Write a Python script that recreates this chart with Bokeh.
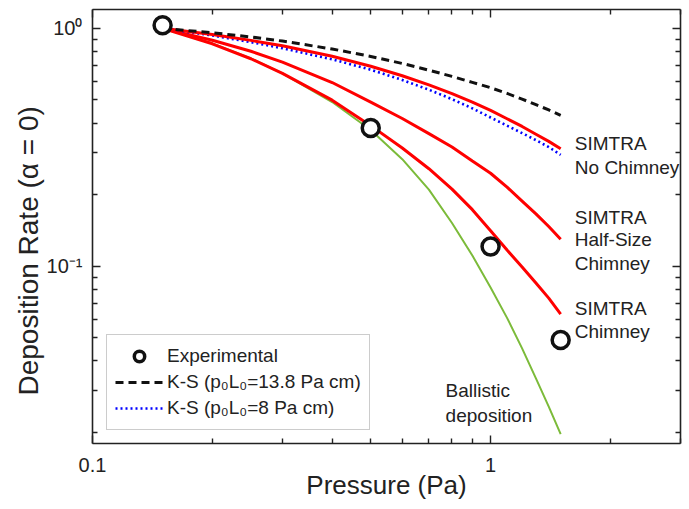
from bokeh.plotting import figure
from bokeh.models import Range1d, LogAxis, FixedTicker, Legend, LegendItem, Label, Title
from bokeh.embed import file_html
from bokeh.resources import INLINE

# ---- data ----
PRESSURE = [0.15, 0.2, 0.25, 0.3, 0.4, 0.5, 0.6, 0.7, 0.8, 0.9, 1.0, 1.1, 1.2, 1.3, 1.4, 1.5]
KS_13_8 = [1.0, 0.958, 0.920, 0.884, 0.819, 0.762, 0.712, 0.667, 0.628, 0.593, 0.563, 0.533, 0.504, 0.478, 0.454, 0.431]
KS_8 = [1.0, 0.933, 0.875, 0.825, 0.741, 0.670, 0.607, 0.552, 0.504, 0.461, 0.422, 0.390, 0.363, 0.339, 0.317, 0.294]
SIM_NO_CHIMNEY = [1.0, 0.942, 0.890, 0.845, 0.763, 0.693, 0.632, 0.579, 0.532, 0.490, 0.452, 0.417, 0.387, 0.359, 0.335, 0.312]
SIM_HALF_CHIMNEY = [1.0, 0.891, 0.801, 0.721, 0.592, 0.490, 0.418, 0.361, 0.317, 0.277, 0.246, 0.215, 0.188, 0.166, 0.147, 0.130]
SIM_CHIMNEY = [1.0, 0.861, 0.745, 0.647, 0.499, 0.390, 0.314, 0.257, 0.211, 0.173, 0.141, 0.117, 0.0993, 0.085, 0.0735, 0.0630]
BALLISTIC = [1.0, 0.865, 0.748, 0.647, 0.490, 0.374, 0.282, 0.210, 0.152, 0.111, 0.0815, 0.0607, 0.0452, 0.0338, 0.0257, 0.0197]

EXP_P = [0.15, 0.5, 1.0, 1.5]
EXP_RATE = [1.03, 0.381, 0.121, 0.049]

X_TICKS = [0.1, 1]
X_TICK_LABELS = ["0.1", "1"]
X_MINOR = [0.2, 0.3, 0.4, 0.5, 0.6, 0.7, 0.8, 0.9, 2, 3]
Y_TICKS = [0.1, 1]
Y_TICK_LABELS = ["10\u207b\u00b9", "10\u2070"]
Y_MINOR = [0.02, 0.03, 0.04, 0.05, 0.06, 0.07, 0.08, 0.09, 0.2, 0.3, 0.4, 0.5, 0.6, 0.7, 0.8, 0.9]

X_TITLE = "Pressure (Pa)"
Y_TITLE = "Deposition Rate (\u03b1 = 0)"

FONT = "Liberation Sans"
TXT = "#222222"
AX = "#222222"

p = figure(width=689, height=509, x_axis_type="log", y_axis_type="log",
           x_range=Range1d(0.1, 3), y_range=Range1d(0.018, 1.2),
           output_backend="svg", toolbar_location=None,
           min_border_left=92, min_border_right=9, min_border_top=9, min_border_bottom=66)
p.xgrid.visible = False
p.ygrid.visible = False
p.outline_line_color = None
p.background_fill_color = "white"
p.border_fill_color = "white"


def style_axis(ax, ticks, minor, labels, show):
    ax.ticker = FixedTicker(ticks=ticks, minor_ticks=minor)
    ax.major_tick_in = 8
    ax.major_tick_out = 0
    ax.minor_tick_in = 5
    ax.minor_tick_out = 0
    ax.axis_line_color = AX
    ax.axis_line_width = 1.6
    ax.major_tick_line_color = AX
    ax.major_tick_line_width = 1.4
    ax.minor_tick_line_color = AX
    ax.minor_tick_line_width = 1.4
    if show:
        ax.major_label_overrides = {t: l for t, l in zip(ticks, labels)}
        ax.major_label_text_font = FONT
        ax.major_label_text_font_size = "20px"
        ax.major_label_text_color = TXT
    else:
        ax.major_label_overrides = {t: "" for t in ticks}
        ax.major_label_text_font_size = "0px"
        ax.major_label_standoff = 0


xa = p.xaxis[0]
ya = p.yaxis[0]
style_axis(xa, X_TICKS, X_MINOR, X_TICK_LABELS, True)
style_axis(ya, Y_TICKS, Y_MINOR, Y_TICK_LABELS, True)
xa.major_label_standoff = 14
ya.major_label_standoff = 10
xa.axis_label = X_TITLE
xa.axis_label_text_font = FONT
xa.axis_label_text_font_size = "26px"
xa.axis_label_text_font_style = "normal"
xa.axis_label_text_color = TXT
xa.axis_label_standoff = -5

top = LogAxis()
right = LogAxis()
style_axis(top, X_TICKS, X_MINOR, X_TICK_LABELS, False)
style_axis(right, Y_TICKS, Y_MINOR, Y_TICK_LABELS, False)
p.add_layout(top, "above")
p.add_layout(right, "right")

# y-axis title as a side title, starting a little above the bottom of the frame
p.add_layout(Title(text=Y_TITLE, align="left", offset=48, standoff=0,
                   text_font=FONT, text_font_size="28px", text_font_style="normal",
                   text_color=TXT), "left")

# ---- curves ----
p.line(PRESSURE, BALLISTIC, line_color="#7cbb3a", line_width=2)
p.line(PRESSURE, SIM_CHIMNEY, line_color="#ff0000", line_width=3)
p.line(PRESSURE, SIM_HALF_CHIMNEY, line_color="#ff0000", line_width=3)
r_blue = p.line(PRESSURE, KS_8, line_color="#0000ff", line_width=2.6, line_dash="2 3")
p.line(PRESSURE, SIM_NO_CHIMNEY, line_color="#ff0000", line_width=3)
r_black = p.line(PRESSURE, KS_13_8, line_color="#111111", line_width=3, line_dash="8 5")
r_exp = p.scatter(EXP_P, EXP_RATE, marker="circle", size=17, fill_color="white",
                  line_color="#111111", line_width=3.5)

legend = Legend(items=[
    LegendItem(label="Experimental", renderers=[r_exp]),
    LegendItem(label="K-S (p\u2080L\u2080=13.8 Pa cm)", renderers=[r_black]),
    LegendItem(label="K-S (p\u2080L\u2080=8 Pa cm)", renderers=[r_blue]),
], location=(14, 13))
legend.label_text_font = FONT
legend.label_text_font_size = "19px"
legend.label_text_color = TXT
legend.glyph_width = 48
legend.glyph_height = 26
legend.label_height = 26
legend.label_standoff = 4
legend.spacing = 0
legend.padding = 8
legend.margin = 0
legend.border_line_color = "#9a9a9a"
legend.border_line_width = 1
legend.background_fill_color = "white"
legend.background_fill_alpha = 1
p.add_layout(legend)

# ---- annotations ----
ANNOT = [
    (1.628, 0.328, "SIMTRA"), (1.628, 0.2597, "No Chimney"),
    (1.628, 0.1609, "SIMTRA"), (1.628, 0.1292, "Half-Size"), (1.628, 0.1023, "Chimney"),
    (1.628, 0.0662, "SIMTRA"), (1.628, 0.0532, "Chimney"),
    (0.771, 0.03015, "Ballistic"), (0.771, 0.0235, "deposition"),
]
for ax_, ay_, t in ANNOT:
    p.add_layout(Label(x=ax_, y=ay_, text=t, text_font=FONT, text_font_size="19px",
                       text_color=TXT, text_baseline="alphabetic", text_align="left"))

open("out.html", "w").write(file_html(p, INLINE))
